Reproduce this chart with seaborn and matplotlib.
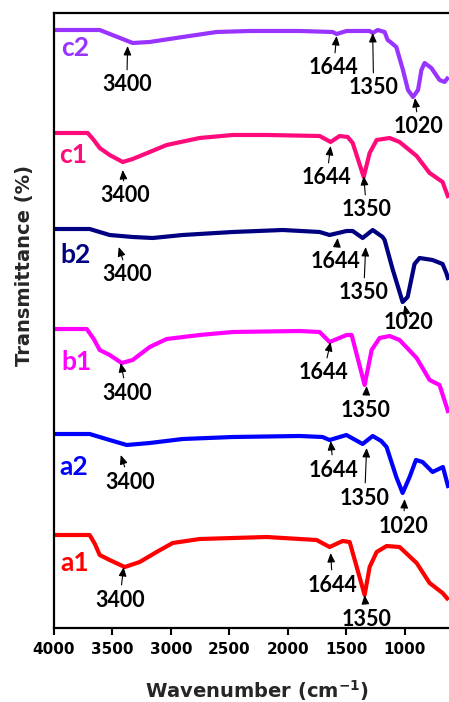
import numpy as np
import pandas as pd
import matplotlib
matplotlib.use("Agg")
import matplotlib.pyplot as plt
import seaborn as sns

# ---- data (wavenumber in cm-1, stacked transmittance in a.u.) ----
wn_a1 = [4000, 3695, 3650, 3609, 3524, 3395, 3267, 3122, 2985, 2754, 2471, 2181, 1753, 1642, 1530, 1470, 1342, 1299, 1239, 1154, 1043, 897, 786, 675, 624]
t_a1 = [93, 93, 84, 73, 68, 61, 66, 76, 85, 89, 90, 91, 88, 81, 87, 86, 33, 61, 76, 82, 81, 65, 45, 35, 28]

wn_a2 = [4000, 3695, 3524, 3378, 3181, 2899, 2471, 1898, 1702, 1642, 1498, 1359, 1273, 1200, 1154, 1071, 1017, 957, 903, 846, 761, 672, 624]
t_a2 = [194, 194, 188, 183, 185, 189, 191, 192, 191, 188, 193, 184, 192, 187, 181, 151, 135, 151, 168, 166, 156, 161, 140]

wn_b1 = [4000, 3720, 3660, 3609, 3524, 3421, 3327, 3181, 3036, 2754, 2471, 1898, 1727, 1642, 1496, 1453, 1342, 1282, 1214, 1128, 1043, 897, 786, 701, 624]
t_b1 = [299, 299, 289, 278, 273, 265, 268, 281, 289, 293, 296, 297, 296, 286, 293, 293, 243, 278, 290, 292, 288, 270, 248, 243, 215]

wn_b2 = [4000, 3695, 3524, 3327, 3156, 2899, 2471, 2044, 1727, 1642, 1496, 1444, 1359, 1273, 1188, 1171, 1103, 1017, 974, 915, 872, 761, 675, 643, 624]
t_b2 = [399, 399, 393, 391, 390, 393, 396, 398, 396, 393, 397, 397, 390, 398, 391, 388, 359, 326, 331, 364, 370, 368, 364, 355, 348]

wn_c1 = [4000, 3712, 3660, 3609, 3524, 3412, 3327, 3181, 3036, 2754, 2471, 2181, 1727, 1633, 1556, 1487, 1444, 1350, 1299, 1239, 1128, 1043, 897, 786, 675, 624]
t_c1 = [495, 495, 488, 480, 473, 466, 469, 476, 483, 490, 493, 493, 492, 486, 492, 491, 485, 451, 475, 488, 490, 486, 472, 455, 446, 430]

wn_c2 = [4000, 3609, 3327, 3181, 2899, 2608, 2326, 1898, 1616, 1582, 1496, 1299, 1273, 1231, 1171, 1145, 1122, 1071, 1014, 971, 928, 885, 856, 829, 771, 701, 658, 624]
t_c2 = [598, 598, 585, 586, 591, 596, 597, 597, 596, 594, 597, 597, 595, 598, 596, 588, 586, 581, 558, 538, 531, 538, 558, 565, 560, 548, 546, 551]

series_names = ["a1", "a2", "b1", "b2", "c1", "c2"]
series_colors = ["#FF0000", "#0000FF", "#FF00FF", "#000080", "#FF0A7A", "#9933FF"]
series_label_pos = [(3823, 65), (3831, 161), (3805, 266), (3814, 373), (3840, 473), (3820, 580)]

# peak annotations: (series, text, tip wn, tip t, text wn, text t)
ann_series = ["c2", "c2", "c2", "c2", "c1", "c1", "c1", "b2", "b2", "b2", "b2",
              "b1", "b1", "b1", "a2", "a2", "a2", "a2", "a1", "a1", "a1"]
ann_text = ["3400", "1644", "1350", "1020", "3400", "1644", "1350", "3400", "1644", "1350", "1020",
            "3400", "1644", "1350", "3400", "1644", "1350", "1020", "3400", "1644", "1350"]
ann_tip_wn = [3370, 1582, 1273, 911, 3412, 1633, 1350, 3446, 1573, 1333, 1000,
              3429, 1633, 1325, 3429, 1633, 1325, 1000, 3404, 1633, 1342]
ann_tip_t = [582, 592, 595, 530, 458, 482, 452, 381, 390, 381, 323,
             265, 286, 242, 173, 187, 180, 129, 61, 75, 33]
ann_txt_wn = [3378, 1607, 1265, 880, 3395, 1667, 1325, 3370, 1590, 1350, 966,
              3378, 1693, 1333, 3352, 1607, 1342, 1009, 3438, 1616, 1325]
ann_txt_t = [543, 560, 540, 501, 432, 450, 418, 353, 366, 335, 305,
             235, 255, 218, 146, 158, 130, 102, 28, 43, 9]

wns = [wn_a1, wn_a2, wn_b1, wn_b2, wn_c1, wn_c2]
ts = [t_a1, t_a2, t_b1, t_b2, t_c1, t_c2]

frames = []
for name, w, t in zip(series_names, wns, ts):
    frames.append(pd.DataFrame({"wn": w, "t": t, "sample": name}))
df = pd.concat(frames, ignore_index=True)

sns.set_style("ticks")
plt.rcParams["font.family"] = ["DejaVu Sans"]
plt.rcParams["mathtext.default"] = "bf"

fig = plt.figure(figsize=(4.49, 7.02), dpi=100)
ax = fig.add_axes([0.1203, 0.1054, 0.8797, 0.8761])

sns.lineplot(data=df, x="wn", y="t", hue="sample", palette=dict(zip(series_names, series_colors)),
             units="sample", estimator=None, sort=False, linewidth=3.0, legend=False, ax=ax)
for ln in ax.get_lines():
    ln.set_solid_joinstyle("round")
    ln.set_solid_capstyle("butt")

ax.set_xlim(4000, 620)
ax.set_ylim(0, 615)
ax.set_xticks([4000, 3500, 3000, 2500, 2000, 1500, 1000])
ax.set_yticks([])
for lbl in ax.get_xticklabels():
    lbl.set_fontweight("bold")
ax.tick_params(axis="x", direction="out", length=5, width=1.5, pad=5, labelsize=11, colors="black")
for s in ["left", "bottom", "top"]:
    ax.spines[s].set_visible(True)
    ax.spines[s].set_linewidth(1.6)
    ax.spines[s].set_color("black")
ax.spines["right"].set_visible(False)

ax.set_xlabel(r"Wavenumber (cm$^{-1}$)", fontsize=14, fontweight="bold")
ax.set_ylabel("Transmittance (%)", fontsize=14, fontweight="bold")
ax.xaxis.set_label_coords(0.513, -0.082)
ax.yaxis.set_label_coords(-0.05, 0.589)

for name, col, (lx, ly) in zip(series_names, series_colors, series_label_pos):
    ax.text(lx, ly, name, color=col, fontsize=19, fontweight="bold", family=["Lato", "DejaVu Sans"],
            ha="center", va="center")

for s, txt, tx, ty, px, py in zip(ann_series, ann_text, ann_tip_wn, ann_tip_t, ann_txt_wn, ann_txt_t):
    ax.annotate(txt, xy=(tx, ty), xytext=(px, py), ha="center", va="center",
                fontsize=15.5, fontweight="bold", family=["Lato", "DejaVu Sans"], color="black",
                arrowprops=dict(arrowstyle="-|>,head_length=0.35,head_width=0.15", color="black",
                                lw=0.8, shrinkA=1, shrinkB=0))

fig.savefig("out.png", dpi=100)
